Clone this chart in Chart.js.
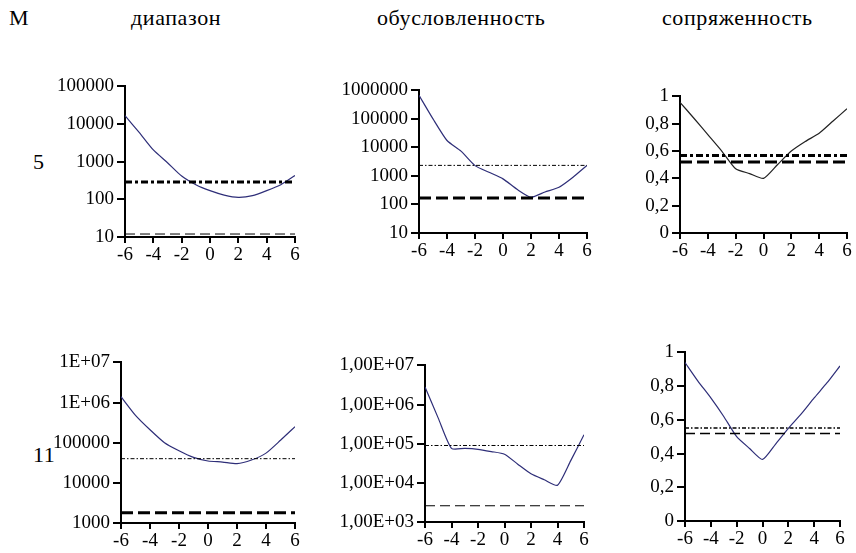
<!DOCTYPE html>
<html>
<head>
<meta charset="utf-8">
<script src="https://cdn.jsdelivr.net/npm/chart.js@4/dist/chart.umd.min.js"></script>
<style>
  body { margin: 0; background: #fff; width: 856px; height: 553px; position: relative; overflow: hidden; font-family: 'Liberation Serif', 'Times New Roman', serif; }
  .lbl { position: absolute; font-size: 22px; line-height: 22px; letter-spacing: 0.6px; color: #000; white-space: nowrap; }
  canvas { position: absolute; }
</style>
</head>
<body>
<div class="lbl" style="left:9px;top:7px;">M</div>
<div class="lbl" style="left:131px;top:7px;">диапазон</div>
<div class="lbl" style="left:377px;top:7px;">обусловленность</div>
<div class="lbl" style="left:662px;top:7px;">сопряженность</div>
<div class="lbl" style="left:33px;top:151px;">5</div>
<div class="lbl" style="left:33px;top:444px;">11</div>

<script>
// x positions of the points and x tick marks
const xValues = [-6, -5, -4, -3, -2, -1, 0, 1, 2, 3, 4, 5, 6];
const xTicks = [-6, -4, -2, 0, 2, 4, 6];

// curves, M = 5
const rangeM5 = [16700, 6000, 2050, 940, 415, 245, 170, 130, 113, 125, 170, 245, 430];
const condM5 = [670000, 100000, 17500, 7400, 2300, 1350, 790, 340, 180, 275, 400, 900, 2350];
const conjM5 = [0.957, 0.84, 0.72, 0.60, 0.47, 0.435, 0.40, 0.50, 0.60, 0.67, 0.73, 0.82, 0.91];

// curves, M = 11
const rangeM11 = [1400000, 480000, 210000, 100000, 63000, 43000, 35000, 33000, 30000, 37000, 55000, 115000, 250000];
const condM11 = [2800000, 450000, 76000, 76000, 72000, 63000, 54000, 30000, 17000, 12000, 8700, 37000, 170000];
const conjM11 = [0.94, 0.83, 0.73, 0.62, 0.50, 0.43, 0.365, 0.455, 0.55, 0.635, 0.73, 0.82, 0.92];

// horizontal reference levels (dotted / dashed), panel order
const dotLevels = [290, 2350, 0.567, 40000, 90000, 0.552];
const dashLevels = [12, 170, 0.519, 1800, 2600, 0.519];

// y tick values and labels
const logTicks5a = [10, 100, 1000, 10000, 100000];
const logLabels5a = ['10', '100', '1000', '10000', '100000'];
const logTicks5b = [10, 100, 1000, 10000, 100000, 1000000];
const logLabels5b = ['10', '100', '1000', '10000', '100000', '1000000'];
const logTicks11 = [1000, 10000, 100000, 1000000, 10000000];
const logLabels11a = ['1000', '10000', '100000', '1E+06', '1E+07'];
const logLabels11b = ['1,00E+03', '1,00E+04', '1,00E+05', '1,00E+06', '1,00E+07'];
const linTicks = [0, 0.2, 0.4, 0.6, 0.8, 1];
const linLabels = ['0', '0,2', '0,4', '0,6', '0,8', '1'];

const Y_W = 120, TOP = 12, RIGHT = 14, X_H = 40;

const panels = [
  { area: [125, 84, 295, 237], series: rangeM5, yType: 'logarithmic', ticks: logTicks5a, labels: logLabels5a,
    color: '#2e2e78', dotW: 3, dashW: 1 },
  { area: [419, 88, 587, 233], series: condM5, yType: 'logarithmic', ticks: logTicks5b, labels: logLabels5b,
    color: '#2e2e78', dotW: 1, dashW: 3 },
  { area: [680, 94, 847, 233], series: conjM5, yType: 'linear', ticks: linTicks, labels: linLabels,
    color: '#222', dotW: 3, dashW: 3 },
  { area: [121, 360, 295, 523], series: rangeM11, yType: 'logarithmic', ticks: logTicks11, labels: logLabels11a,
    color: '#2e2e78', dotW: 1, dashW: 3 },
  { area: [425, 363, 584, 522], series: condM11, yType: 'logarithmic', ticks: logTicks11, labels: logLabels11b,
    color: '#2e2e78', dotW: 1, dashW: 1 },
  { area: [685, 350, 840, 521], series: conjM11, yType: 'linear', ticks: linTicks, labels: linLabels,
    color: '#2e2e78', dotW: 1.5, dashW: 1.5 }
];

const tickFont = { family: "'Liberation Serif', 'Times New Roman', serif", size: 19 };

panels.forEach((p, i) => {
  const [l, t, r, b] = p.area;
  const canvas = document.createElement('canvas');
  const w = Y_W + (r - l) + RIGHT;
  const h = TOP + (b - t) + X_H;
  canvas.width = w;
  canvas.height = h;
  canvas.style.left = (l - Y_W) + 'px';
  canvas.style.top = (t - TOP) + 'px';
  canvas.style.width = w + 'px';
  canvas.style.height = h + 'px';
  document.body.appendChild(canvas);

  const xMin = xTicks[0], xMax = xTicks[xTicks.length - 1];
  const yMin = p.ticks[0], yMax = p.ticks[p.ticks.length - 1];

  new Chart(canvas.getContext('2d'), {
    type: 'line',
    data: {
      datasets: [
        {
          data: xValues.map((x, k) => ({ x: x, y: p.series[k] })),
          borderColor: p.color, borderWidth: 1.2, pointRadius: 0, tension: 0.2, fill: false, order: 2
        },
        {
          data: [{ x: xMin, y: dotLevels[i] }, { x: xMax, y: dotLevels[i] }],
          borderColor: '#000', borderWidth: p.dotW, borderDash: p.dotW > 2 ? [7, 3, 3, 3] : [4, 2, 1.5, 2],
          pointRadius: 0, fill: false, order: 1
        },
        {
          data: [{ x: xMin, y: dashLevels[i] }, { x: xMax, y: dashLevels[i] }],
          borderColor: '#000', borderWidth: p.dashW, borderDash: p.dashW > 2 ? [12, 5] : [10, 5],
          pointRadius: 0, fill: false, order: 1
        }
      ]
    },
    options: {
      responsive: false,
      devicePixelRatio: 1,
      animation: false,
      layout: { padding: { top: TOP, right: RIGHT, left: 0, bottom: 0 } },
      plugins: { legend: { display: false }, tooltip: { enabled: false } },
      scales: {
        x: {
          type: 'linear', min: xMin, max: xMax,
          afterBuildTicks: (s) => { s.ticks = xTicks.map(v => ({ value: v })); },
          afterFit: (s) => { s.height = X_H; },
          border: { color: '#000', width: 2 },
          grid: { drawOnChartArea: false, color: '#000', lineWidth: 2, tickLength: 6 },
          ticks: { color: '#000', font: tickFont, padding: 1, maxRotation: 0, callback: (v) => String(v) }
        },
        y: {
          type: p.yType, min: yMin, max: yMax,
          afterBuildTicks: (s) => { s.ticks = p.ticks.map(v => ({ value: v })); },
          afterFit: (s) => { s.width = Y_W; },
          border: { color: '#000', width: 2 },
          grid: { drawOnChartArea: false, color: '#000', lineWidth: 2, tickLength: 8 },
          ticks: { color: '#000', font: tickFont, padding: 3, callback: (v, idx) => p.labels[idx] }
        }
      }
    }
  });
});
</script>
</body>
</html>
